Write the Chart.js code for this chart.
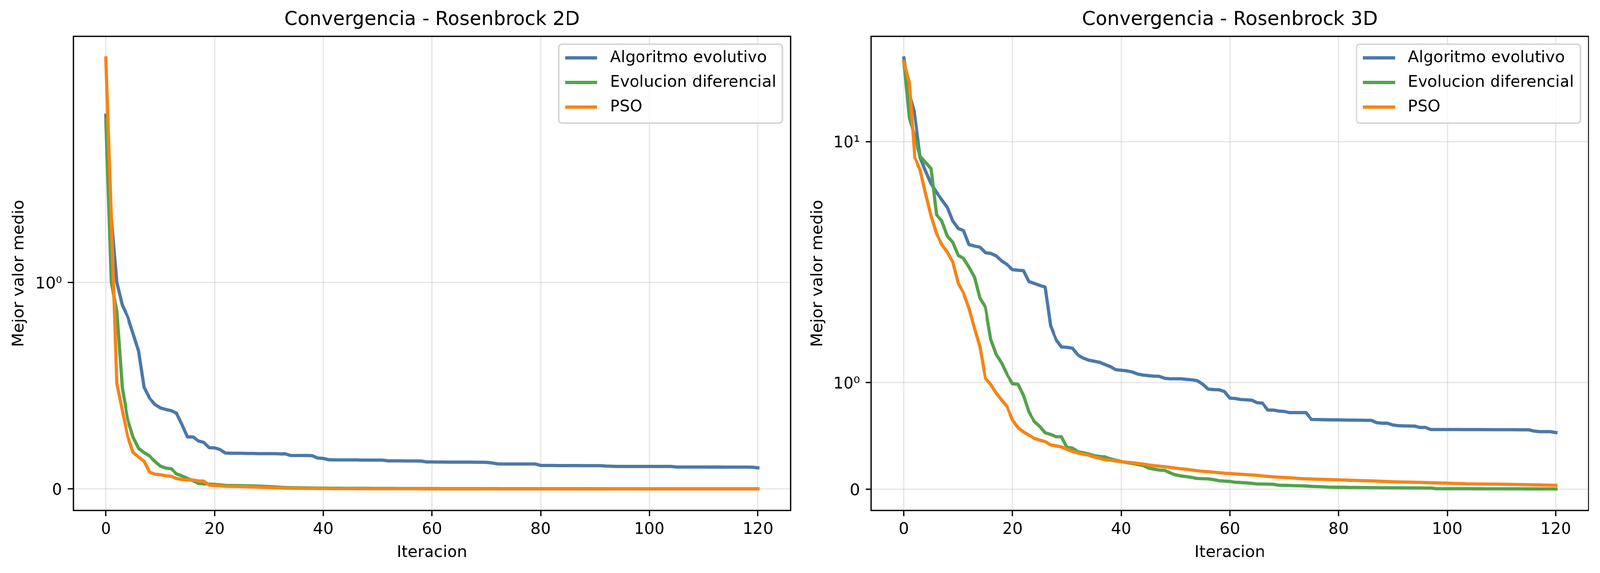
<!DOCTYPE html>
<html>
<head>
<meta charset="utf-8">
<script src="https://cdn.jsdelivr.net/npm/chart.js@4.4.1/dist/chart.umd.min.js"></script>
<style>
  html, body { margin: 0; padding: 0; background: #fff; overflow: hidden; }
  #wrap { position: absolute; left: 0; top: 0; width: 4165px; height: 1466px; overflow: hidden; transform-origin: 0 0; }
  canvas { position: absolute; top: 0; }
</style>
</head>
<body>
<div id="wrap">
  <canvas id="chart2d" width="2070" height="1466" style="left:0px"></canvas>
  <canvas id="chart3d" width="2095" height="1466" style="left:2070px"></canvas>
</div>
<script>
const FONT = "'DejaVu Sans', sans-serif";

// Fit the 4165x1466 figure into whatever viewport we actually get
const wrap = document.getElementById('wrap');
const sx = window.innerWidth / 4165;
const sy = window.innerHeight / 1466;
if (Math.abs(sx - 1) > 0.001 || Math.abs(sy - 1) > 0.001) {
    wrap.style.transform = `scale(${sx}, ${sy})`;
}

// --- Data ---
const iterations = Array.from({ length: 121 }, (_, i) => i);
const xTicks = [0, 20, 40, 60, 80, 100, 120];
const yTickValues = [0, 1, 10];
const yTickLabels = ['0', '10\u2070', '10\u00b9'];

const seriesNames = ['Algoritmo evolutivo', 'Evolucion diferencial', 'PSO'];
const seriesColors = ['#4c78a8', '#54a24b', '#f58518'];

const ae2d = [1.81, 1.31, 1.00, 0.89, 0.834, 0.752, 0.668, 0.493, 0.44, 0.41,
  0.393, 0.385, 0.379, 0.367, 0.311, 0.252, 0.252, 0.233, 0.226, 0.200,
  0.199, 0.191, 0.174, 0.173, 0.173, 0.173, 0.172, 0.172, 0.171, 0.171,
  0.171, 0.171, 0.170, 0.170, 0.162, 0.162, 0.162, 0.162, 0.161, 0.150,
  0.148, 0.1416, 0.141, 0.141, 0.141, 0.141, 0.141, 0.140, 0.140, 0.140,
  0.140, 0.1395, 0.136, 0.136, 0.136, 0.1355, 0.1355, 0.1355, 0.135, 0.131,
  0.131, 0.1305, 0.1305, 0.130, 0.130, 0.130, 0.130, 0.130, 0.1296, 0.1296,
  0.129, 0.126, 0.122, 0.121, 0.121, 0.121, 0.121, 0.121, 0.121, 0.121,
  0.114, 0.114, 0.1138, 0.1136, 0.1135, 0.1134, 0.1133, 0.1132, 0.1131, 0.1131,
  0.113, 0.113, 0.111, 0.110, 0.109, 0.109, 0.109, 0.109, 0.109, 0.109,
  0.109, 0.109, 0.109, 0.109, 0.109, 0.1063, 0.1063, 0.1063, 0.1062, 0.1062,
  0.1062, 0.1061, 0.1061, 0.1061, 0.106, 0.106, 0.106, 0.106, 0.1058, 0.1055,
  0.1025];

const de2d = [1.79, 1.00, 0.86, 0.49, 0.337, 0.25, 0.197, 0.176, 0.160, 0.134,
  0.111, 0.101, 0.098, 0.073, 0.063, 0.051, 0.040, 0.027, 0.025, 0.024,
  0.022, 0.020, 0.0175, 0.017, 0.0165, 0.016, 0.0155, 0.015, 0.014, 0.013,
  0.0115, 0.010, 0.0085, 0.007, 0.0065, 0.006, 0.0055, 0.005, 0.0045, 0.0042,
  0.004, 0.0038, 0.0036, 0.0035, 0.0033, 0.0032, 0.0031, 0.003, 0.0029, 0.0028,
  0.0027, 0.0026, 0.0025, 0.0025, 0.0024, 0.0023, 0.0023, 0.0022, 0.0021, 0.0021,
  0.002, 0.002, 0.0019, 0.0019, 0.0018, 0.0018, 0.0017, 0.0017, 0.0016, 0.0016,
  0.0015, 0.0015, 0.0015, 0.0014, 0.0014, 0.0014, 0.0013, 0.0013, 0.0013, 0.0012,
  0.0012, 0.0012, 0.0012, 0.0011, 0.0011, 0.0011, 0.0011, 0.001, 0.001, 0.001,
  0.001, 0.001, 0.001, 0.00095, 0.00095, 0.00095, 0.0009, 0.0009, 0.0009, 0.0009,
  0.00085, 0.00085, 0.00085, 0.00085, 0.0008, 0.0008, 0.0008, 0.0008, 0.0008, 0.00075,
  0.00075, 0.00075, 0.00075, 0.0007, 0.0007, 0.0007, 0.0007, 0.0007, 0.00065, 0.00065,
  0.00065];

const pso2d = [2.237, 1.31, 0.51, 0.38, 0.255, 0.177, 0.155, 0.134, 0.082, 0.072,
  0.069, 0.064, 0.061, 0.051, 0.046, 0.044, 0.043, 0.039, 0.038, 0.019,
  0.017, 0.015, 0.013, 0.0125, 0.012, 0.0115, 0.011, 0.010, 0.009, 0.008,
  0.007, 0.006, 0.005, 0.004, 0.0037, 0.0034, 0.0031, 0.0028, 0.0026, 0.0024,
  0.0022, 0.0021, 0.002, 0.0019, 0.0018, 0.0017, 0.0016, 0.0015, 0.0015, 0.0014,
  0.0014, 0.0013, 0.0013, 0.0012, 0.0012, 0.0011, 0.0011, 0.0011, 0.001, 0.001,
  0.001, 0.00095, 0.00095, 0.0009, 0.0009, 0.0009, 0.00085, 0.00085, 0.0008, 0.0008,
  0.0008, 0.00075, 0.00075, 0.00075, 0.0007, 0.0007, 0.0007, 0.00065, 0.00065, 0.00065,
  0.0006, 0.0006, 0.0006, 0.0006, 0.00055, 0.00055, 0.00055, 0.00055, 0.0005, 0.0005,
  0.0005, 0.0005, 0.0005, 0.00048, 0.00048, 0.00046, 0.00046, 0.00045, 0.00045, 0.00044,
  0.00044, 0.00043, 0.00043, 0.00042, 0.00042, 0.00041, 0.00041, 0.0004, 0.0004, 0.0004,
  0.00039, 0.00039, 0.00038, 0.00038, 0.00037, 0.00037, 0.00036, 0.00036, 0.00035, 0.00035,
  0.00034];

const ae3d = [27.3, 17.7, 13.95, 8.27, 7.02, 6.04, 5.44, 4.98, 4.55, 3.86,
  3.53, 3.44, 2.91, 2.86, 2.82, 2.64, 2.62, 2.54, 2.39, 2.29,
  2.155, 2.14, 2.13, 1.946, 1.93, 1.911, 1.895, 1.533, 1.404, 1.334,
  1.33, 1.322, 1.26, 1.23, 1.21, 1.20, 1.19, 1.17, 1.15, 1.12,
  1.115, 1.11, 1.10, 1.08, 1.07, 1.065, 1.06, 1.058, 1.04, 1.035,
  1.035, 1.035, 1.03, 1.025, 1.018, 0.985, 0.938, 0.934, 0.933, 0.916,
  0.854, 0.85, 0.841, 0.838, 0.835, 0.811, 0.807, 0.742, 0.742, 0.733,
  0.729, 0.718, 0.718, 0.718, 0.718, 0.654, 0.653, 0.652, 0.651, 0.650,
  0.650, 0.649, 0.648, 0.648, 0.647, 0.646, 0.646, 0.624, 0.619, 0.619,
  0.602, 0.596, 0.594, 0.593, 0.592, 0.579, 0.579, 0.560, 0.560, 0.560,
  0.560, 0.560, 0.560, 0.559, 0.559, 0.559, 0.559, 0.559, 0.558, 0.558,
  0.558, 0.558, 0.558, 0.557, 0.557, 0.557, 0.545, 0.540, 0.540, 0.540,
  0.531];

const de3d = [26.3, 13.3, 10.66, 8.4, 7.79, 7.23, 4.16, 3.86, 3.225, 2.99,
  2.555, 2.465, 2.22, 1.988, 1.79, 1.708, 1.404, 1.264, 1.182, 1.075,
  0.989, 0.984, 0.881, 0.725, 0.636, 0.590, 0.529, 0.514, 0.492, 0.492,
  0.394, 0.385, 0.352, 0.343, 0.331, 0.315, 0.307, 0.303, 0.285, 0.272,
  0.260, 0.250, 0.242, 0.233, 0.223, 0.199, 0.189, 0.180, 0.177, 0.153,
  0.135, 0.125, 0.118, 0.110, 0.101, 0.099, 0.097, 0.090, 0.080, 0.076,
  0.073, 0.065, 0.063, 0.060, 0.055, 0.050, 0.049, 0.048, 0.046, 0.038,
  0.037, 0.035, 0.033, 0.032, 0.030, 0.027, 0.025, 0.023, 0.020, 0.019,
  0.018, 0.018, 0.017, 0.017, 0.016, 0.016, 0.015, 0.015, 0.014, 0.014,
  0.013, 0.013, 0.013, 0.012, 0.012, 0.012, 0.011, 0.011, 0.005, 0.005,
  0.005, 0.0048, 0.0047, 0.0046, 0.0045, 0.0044, 0.0043, 0.0042, 0.0041, 0.004,
  0.004, 0.0039, 0.0038, 0.0037, 0.0036, 0.0035, 0.0034, 0.0033, 0.0032, 0.0031,
  0.003];

const pso3d = [26.0, 20.3, 8.27, 7.12, 5.36, 4.1, 3.32, 2.91, 2.66, 2.36,
  1.93, 1.837, 1.696, 1.509, 1.334, 1.04, 0.982, 0.901, 0.835, 0.773,
  0.65, 0.578, 0.538, 0.507, 0.477, 0.460, 0.447, 0.415, 0.407, 0.397,
  0.375, 0.355, 0.340, 0.330, 0.319, 0.303, 0.290, 0.276, 0.272, 0.265,
  0.258, 0.253, 0.248, 0.242, 0.236, 0.228, 0.221, 0.216, 0.211, 0.205,
  0.198, 0.192, 0.187, 0.180, 0.173, 0.168, 0.164, 0.160, 0.155, 0.150,
  0.148, 0.143, 0.140, 0.137, 0.134, 0.130, 0.125, 0.120, 0.116, 0.113,
  0.110, 0.107, 0.104, 0.100, 0.097, 0.096, 0.094, 0.093, 0.091, 0.089,
  0.088, 0.086, 0.084, 0.083, 0.081, 0.080, 0.078, 0.076, 0.074, 0.072,
  0.070, 0.068, 0.067, 0.066, 0.065, 0.064, 0.062, 0.061, 0.060, 0.058,
  0.057, 0.055, 0.053, 0.052, 0.050, 0.050, 0.049, 0.049, 0.048, 0.048,
  0.047, 0.046, 0.045, 0.044, 0.043, 0.042, 0.041, 0.040, 0.039, 0.038,
  0.037];

// --- Symlog scale (linthresh 2, linscale 1, base 10) ---
const LINTHRESH = 2;
const LINSCALE_ADJ = 1 / (1 - 1 / 10);

function symT(v) {
  const a = Math.abs(v);
  if (a <= LINTHRESH) return v * LINSCALE_ADJ;
  return Math.sign(v) * LINTHRESH * (LINSCALE_ADJ + Math.log10(a / LINTHRESH));
}

function symInv(t) {
  const a = Math.abs(t);
  if (a <= LINTHRESH * LINSCALE_ADJ) return t / LINSCALE_ADJ;
  return Math.sign(t) * LINTHRESH * Math.pow(10, a / LINTHRESH - LINSCALE_ADJ);
}

class SymlogScale extends Chart.Scale {
  static id = 'symlog';
  static defaults = {};

  determineDataLimits() {
    const { min, max } = this.getMinMax(true);
    const t0 = symT(min), t1 = symT(max);
    const pad = (t1 - t0) * 0.05;
    this._t0 = t0 - pad;
    this._t1 = t1 + pad;
    this.min = symInv(this._t0);
    this.max = symInv(this._t1);
  }

  buildTicks() {
    return yTickValues.filter(v => v >= this.min && v <= this.max).map(v => ({ value: v }));
  }

  getLabelForValue(v) {
    return String(v);
  }

  getPixelForValue(v) {
    return this.getPixelForDecimal((symT(v) - this._t0) / (this._t1 - this._t0));
  }

  getValueForPixel(p) {
    return symInv(this._t0 + this.getDecimalForPixel(p) * (this._t1 - this._t0));
  }
}
Chart.register(SymlogScale);

// --- Plugins: axes frame + boxed legend ---
const frameLegend = {
  id: 'frameLegend',
  afterDatasetsDraw(chart) {
    const { ctx, chartArea } = chart;
    ctx.save();
    ctx.lineWidth = 3.3;
    ctx.strokeStyle = '#000';
    ctx.strokeRect(chartArea.left, chartArea.top, chartArea.right - chartArea.left, chartArea.bottom - chartArea.top);

    const fs = 41.7;
    ctx.font = `${fs}px ${FONT}`;
    const names = chart.data.datasets.map(d => d.label);
    const textW = Math.max(...names.map(n => ctx.measureText(n).width));
    const pad = 16.7, handleLen = 83.4, textPad = 33.4;
    const w = pad + handleLen + textPad + textW + pad;
    const h = 202;
    const right = chartArea.right - 21;
    const top = chartArea.top + 20;
    const left = right - w;

    ctx.beginPath();
    ctx.roundRect(left, top, w, h, 8.3);
    ctx.fillStyle = 'rgba(255,255,255,0.8)';
    ctx.fill();
    ctx.lineWidth = 4.2;
    ctx.strokeStyle = 'rgba(204,204,204,0.8)';
    ctx.stroke();

    chart.data.datasets.forEach((ds, k) => {
      const cy = top + 35 + k * 63;
      ctx.beginPath();
      ctx.moveTo(left + pad + 4, cy);
      ctx.lineTo(left + pad + handleLen - 4, cy);
      ctx.strokeStyle = ds.borderColor;
      ctx.lineWidth = 8.3;
      ctx.lineCap = 'square';
      ctx.stroke();
      ctx.fillStyle = '#000';
      ctx.textBaseline = 'middle';
      ctx.textAlign = 'left';
      ctx.fillText(ds.label, left + pad + handleLen + textPad, cy);
    });
    ctx.restore();
  }
};

function makeChart(canvasId, title, series, axisWidth, padRight, yTitlePad) {
  const grid = {
    color: 'rgba(176,176,176,0.3)',
    lineWidth: 3.3,
    drawTicks: true,
    tickLength: 14.6,
    tickColor: '#000',
    tickWidth: 3.3
  };
  return new Chart(document.getElementById(canvasId), {
    type: 'line',
    data: {
      labels: iterations,
      datasets: series.map((values, k) => ({
        label: seriesNames[k],
        data: values,
        borderColor: seriesColors[k],
        backgroundColor: seriesColors[k],
        borderWidth: 8.3,
        borderJoinStyle: 'round',
        borderCapStyle: 'square',
        pointRadius: 0,
        tension: 0,
        fill: false,
        order: 3 - k
      }))
    },
    options: {
      responsive: false,
      animation: false,
      devicePixelRatio: 1,
      layout: { padding: { left: 0, right: padRight, top: 0, bottom: 0 } },
      plugins: {
        legend: { display: false },
        tooltip: { enabled: false },
        title: {
          display: true,
          text: title,
          fullSize: false,
          color: '#000',
          font: { family: FONT, size: 50, weight: 'normal' },
          padding: { top: 20.7, bottom: 12.3 }
        }
      },
      scales: {
        x: {
          type: 'linear',
          min: -6,
          max: 126,
          afterBuildTicks: s => { s.ticks = xTicks.map(v => ({ value: v })); },
          afterFit: s => { s.height = 160; },
          grid: grid,
          border: { display: false },
          ticks: { color: '#000', font: { family: FONT, size: 41.7 }, padding: 9.6, maxRotation: 0 },
          title: {
            display: true,
            text: 'Iteracion',
            color: '#000',
            font: { family: FONT, size: 41.7 },
            padding: { top: 0, bottom: 26.4 }
          }
        },
        y: {
          type: 'symlog',
          afterFit: s => { s.width = axisWidth; },
          grid: grid,
          border: { display: false },
          ticks: {
            color: '#000',
            font: { family: FONT, size: 41.7 },
            padding: 14.6,
            labelOffset: 4,
            callback: v => yTickLabels[yTickValues.indexOf(v)]
          },
          title: {
            display: true,
            text: 'Mejor valor medio',
            color: '#000',
            font: { family: FONT, size: 41.7 },
            padding: { top: yTitlePad, bottom: 0 }
          }
        }
      }
    },
    plugins: [frameLegend]
  });
}

makeChart('chart2d', 'Convergencia - Rosenbrock 2D', [ae2d, de2d, pso2d], 191, 12, 25.6);
makeChart('chart3d', 'Convergencia - Rosenbrock 3D', [ae3d, de3d, pso3d], 198, 30, 34.6);
</script>
</body>
</html>
